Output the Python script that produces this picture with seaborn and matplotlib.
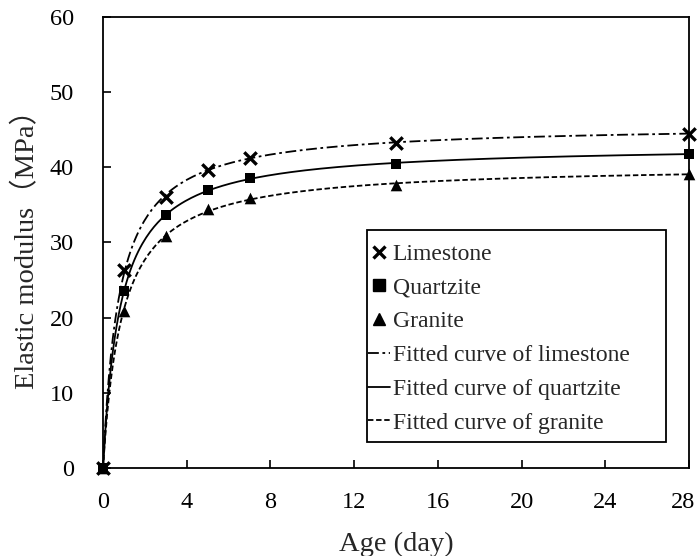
import numpy as np
import pandas as pd
import matplotlib
matplotlib.use("Agg")
import matplotlib.pyplot as plt
import matplotlib.transforms as mtransforms
import seaborn as sns
from matplotlib.lines import Line2D
from matplotlib.patches import Rectangle

age = [0, 1, 3, 5, 7, 14, 28]
limestone = [0, 26.3, 36.1, 39.6, 41.2, 43.3, 44.5]
quartzite = [0, 23.6, 33.6, 37.0, 38.6, 40.4, 41.8]
granite = [0, 20.9, 30.8, 34.4, 35.9, 37.7, 39.1]
materials = ["Limestone", "Quartzite", "Granite"]
curve_labels = ["Fitted curve of limestone", "Fitted curve of quartzite", "Fitted curve of granite"]
x_ticks = [0, 4, 8, 12, 16, 20, 24, 28]
y_ticks = [0, 10, 20, 30, 40, 50, 60]

sns.set_style("ticks")
plt.rcParams["font.family"] = ["Liberation Serif", "Noto Sans CJK SC"]

fig, ax = plt.subplots(figsize=(6.99, 5.56), dpi=100)
fig.subplots_adjust(left=0.1474, right=0.9857, top=0.9694, bottom=0.1583)

series = {"Limestone": limestone, "Quartzite": quartzite, "Granite": granite}
markers = {"Limestone": "x", "Quartzite": "s", "Granite": "^"}
msizes = {"Limestone": 80, "Quartzite": 60, "Granite": 70}
styles = {"Limestone": (0, (6, 2, 1.5, 2)), "Quartzite": "-", "Granite": (0, (3, 1.5))}

# Hyperbolic fit E = t/(a + b t), fitted from the read data points
rows = []
t_fit = np.linspace(0, 28, 300)
curves = []
for m in materials:
    t = np.array(age[1:], float)
    e = np.array(series[m][1:], float)
    b, a = np.polyfit(t, t / e, 1)
    e_fit = t_fit / (a + b * t_fit)
    curves.append(pd.DataFrame({"Age": t_fit, "E": e_fit, "Material": m}))
    for ti, ei in zip(age, series[m]):
        rows.append({"Age": ti, "E": ei, "Material": m})
df = pd.DataFrame(rows)
cdf = pd.concat(curves, ignore_index=True)

for m in materials:
    sub = cdf[cdf.Material == m]
    sns.lineplot(data=sub, x="Age", y="E", ax=ax, color="black", lw=1.3,
                 linestyle=styles[m], legend=False, sort=False)
for m in materials:
    sub = df[df.Material == m]
    kw = dict(linewidth=2.4) if m == "Limestone" else dict(linewidth=0)
    sns.scatterplot(data=sub, x="Age", y="E", ax=ax, marker=markers[m],
                    s=msizes[m], color="black", legend=False, zorder=5, clip_on=False, **kw)

ax.set_xlim(0, 28)
ax.set_ylim(0, 60)
ax.set_xticks(x_ticks)
ax.set_yticks(y_ticks)
ax.tick_params(direction="in", length=6, width=1.2, labelsize=17.5, colors="black")
ax.tick_params(axis="x", pad=17)
ax.tick_params(axis="y", pad=21)
for s in ax.spines.values():
    s.set_visible(True)
    s.set_linewidth(1.3)
    s.set_color("black")
ax.set_xlabel("Age (day)", fontsize=20.5, labelpad=14)
ax.set_ylabel("Elastic modulus（MPa）", fontsize=20.5, labelpad=7)

# keep the last x label inside the figure
fig.canvas.draw()
last = ax.get_xticklabels()[-1]
last.set_transform(last.get_transform() + mtransforms.ScaledTranslation(-6 / 100, 0, fig.dpi_scale_trans))

handles = [
    Line2D([], [], color="black", marker="x", ls="none", markersize=9, mew=2.4),
    Line2D([], [], color="black", marker="s", ls="none", markersize=8),
    Line2D([], [], color="black", marker="^", ls="none", markersize=9),
    Line2D([], [], color="black", lw=1.3, ls=styles["Limestone"]),
    Line2D([], [], color="black", lw=1.3, ls=styles["Quartzite"]),
    Line2D([], [], color="black", lw=1.3, ls=styles["Granite"]),
]
labels = materials + curve_labels

# legend frame drawn as a separate box
ax.add_patch(Rectangle((0.45, 0.058), 0.511, 0.47, transform=ax.transAxes, fill=True,
                       facecolor="white", edgecolor="black", lw=1.3, zorder=6))
leg = ax.legend(handles, labels, loc="upper left", bbox_to_anchor=(0.453, 0.498),
                fontsize=17, frameon=False, handlelength=0.9, handletextpad=0.12,
                labelspacing=0.517, borderaxespad=0, borderpad=0)
leg.set_zorder(7)

fig.savefig("out.png", dpi=100)
